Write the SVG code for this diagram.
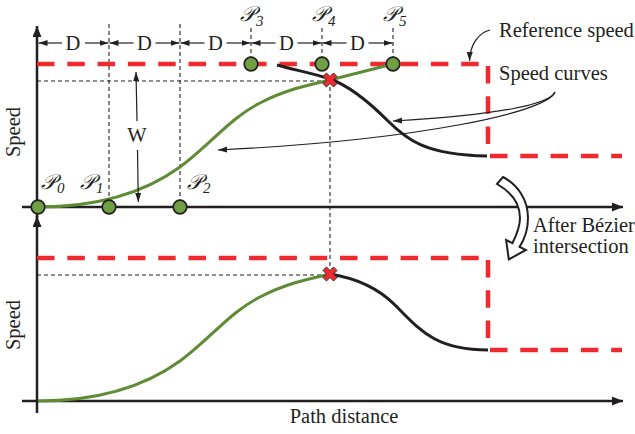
<svg xmlns="http://www.w3.org/2000/svg" width="635" height="434" viewBox="0 0 635 434">
<defs>
<style>
text{font-family:"Liberation Serif","Times New Roman",serif;fill:#231f20}
.lbl{font-size:20.5px}
.pl{font-size:21px;font-style:italic}
.sub{font-size:15px;font-style:italic}
.axis{stroke:#231f20;stroke-width:2.5;fill:none}
.ref{stroke:#ee2a2f;stroke-width:4.5;stroke-dasharray:17.5 12.8;fill:none}
.guide{stroke:#231f20;stroke-width:1.1;stroke-dasharray:4 3;fill:none}
.green{stroke:#5e8c35;stroke-width:3;fill:none}
.black{stroke:#231f20;stroke-width:3;fill:none}
.thin{stroke:#231f20;stroke-width:1.2;fill:none}
.dot{fill:#6fa044;stroke:#231f20;stroke-width:1.7}
.xm{fill:#ee2a2f;stroke:#231f20;stroke-width:0.8}
</style>
<marker id="ax" markerUnits="userSpaceOnUse" markerWidth="12" markerHeight="10" refX="11" refY="4.5" orient="auto"><path d="M0,0 L11,4.5 L0,9 z" fill="#231f20"/></marker>
<marker id="ah" markerUnits="userSpaceOnUse" markerWidth="10" markerHeight="8" refX="9" refY="3" orient="auto"><path d="M0,0 L9,3 L0,6 z" fill="#231f20"/></marker>
<path id="xshape" d="M-2.5,-7.5 H2.5 V-2.5 H7.5 V2.5 H2.5 V7.5 H-2.5 V2.5 H-7.5 V-2.5 H-2.5 Z" transform="rotate(45)"/>
</defs>

<g id="axes">
<path class="axis" d="M37,218 V26" marker-end="url(#ax)"/>
<path class="axis" d="M22,207 H623" marker-end="url(#ax)"/>
<path class="axis" d="M37,413 V216" marker-end="url(#ax)"/>
<path class="axis" d="M22,401 H623" marker-end="url(#ax)"/>
<text class="lbl" transform="translate(20,132) rotate(-90)" text-anchor="middle">Speed</text>
<text class="lbl" transform="translate(20,325) rotate(-90)" text-anchor="middle">Speed</text>
<text class="lbl" x="344" y="423" text-anchor="middle">Path distance</text>
</g>

<g id="guides">
<path class="guide" d="M109,24 V200 M180,24 V200 M251,28 V57 M322,28 V57 M393,28 V57 M330,87 V268 M37,81 H322 M37,275 H322"/>
</g>

<g id="reference-speed">
<path class="ref" d="M37,64 H482"/>
<path class="ref" d="M488,66 V146"/>
<path class="ref" d="M490,156 H622"/>
<path class="ref" d="M37,258 H482"/>
<path class="ref" d="M488,260 V346"/>
<path class="ref" d="M490,350 H622"/>
</g>

<g id="speed-curves">
<path class="green" d="M38,207 C90,207 140,196 180,167 C210,145 230,118 260,103 C285,90 308,85 330,80 L393,64"/>
<path class="black" d="M277,65 C295,70 315,74 330,79 C350,86 370,103 388,121 C406,139 425,155 487,156"/>
<path class="green" transform="translate(0,194)" d="M38,207 C90,207 140,196 180,167 C210,145 230,118 260,103 C285,90 308,85 330,80"/>
<path class="black" d="M330,274 C355,278 377,287 395,305 C420,330 435,350 488,350"/>
</g>

<g id="connectors">
<path class="thin" d="M62,43 H38.5" marker-end="url(#ah)"/>
<path class="thin" d="M85,43 H108.5" marker-end="url(#ah)"/>
<path class="thin" d="M133.5,43 H109.5" marker-end="url(#ah)"/>
<path class="thin" d="M155.5,43 H179.5" marker-end="url(#ah)"/>
<path class="thin" d="M204.5,43 H180.5" marker-end="url(#ah)"/>
<path class="thin" d="M226.5,43 H250.5" marker-end="url(#ah)"/>
<path class="thin" d="M275.5,43 H251.5" marker-end="url(#ah)"/>
<path class="thin" d="M297.5,43 H321.5" marker-end="url(#ah)"/>
<path class="thin" d="M346.5,43 H322.5" marker-end="url(#ah)"/>
<path class="thin" d="M368.5,43 H392.5" marker-end="url(#ah)"/>
<text class="lbl" x="73" y="50" text-anchor="middle">D</text>
<text class="lbl" x="144.5" y="50" text-anchor="middle">D</text>
<text class="lbl" x="215.5" y="50" text-anchor="middle">D</text>
<text class="lbl" x="286.5" y="50" text-anchor="middle">D</text>
<text class="lbl" x="357.5" y="50" text-anchor="middle">D</text>
<path class="thin" d="M137,121 L136,72" marker-end="url(#ah)"/>
<path class="thin" d="M137.5,150 L138.3,202" marker-end="url(#ah)"/>
<text class="lbl" x="137" y="142" text-anchor="middle">W</text>
<path class="thin" d="M490,30 C478,33 470,45 469.5,61" marker-end="url(#ah)"/>
<path class="thin" d="M555,92 C550,104 500,115 393,121" marker-end="url(#ah)"/>
<path class="thin" d="M555,92 C548,112 420,140 218,150" marker-end="url(#ah)"/>
<path d="M497,184 L503,177 C518,185 528,200 528,218 C528,230 524,240 519.6,246.8 L525.9,250 L508.8,259.4 L506.1,240 L512.4,243.2 C516,236 520,228 520,218 C520,204 511,192 497,184 Z" fill="#fff" stroke="#231f20" stroke-width="2" stroke-linejoin="miter"/>
<text class="lbl" x="499" y="37">Reference speed</text>
<text class="lbl" x="499" y="80">Speed curves</text>
<text class="lbl" x="533" y="232">After Bézier</text>
<text class="lbl" x="533" y="253">intersection</text>
</g>

<g id="intersection-top"><use href="#xshape" x="330" y="80" class="xm"/></g>
<g id="intersection-bottom"><use href="#xshape" x="330" y="274" class="xm"/></g>

<g id="P0"><circle class="dot" cx="38" cy="207" r="6.8"/><text class="pl" x="41" y="189">𝒫<tspan class="sub" dx="1" dy="4">0</tspan></text></g>
<g id="P1"><circle class="dot" cx="109" cy="207" r="6.8"/><text class="pl" x="80" y="189">𝒫<tspan class="sub" dx="1" dy="4">1</tspan></text></g>
<g id="P2"><circle class="dot" cx="180" cy="207" r="6.8"/><text class="pl" x="187" y="189">𝒫<tspan class="sub" dx="1" dy="4">2</tspan></text></g>
<g id="P3"><circle class="dot" cx="251" cy="64" r="6.8"/><text class="pl" x="240" y="21">𝒫<tspan class="sub" dx="1" dy="5">3</tspan></text></g>
<g id="P4"><circle class="dot" cx="322" cy="64" r="6.8"/><text class="pl" x="312" y="21">𝒫<tspan class="sub" dx="1" dy="5">4</tspan></text></g>
<g id="P5"><circle class="dot" cx="393" cy="64" r="6.8"/><text class="pl" x="383" y="21">𝒫<tspan class="sub" dx="1" dy="5">5</tspan></text></g>
</svg>
